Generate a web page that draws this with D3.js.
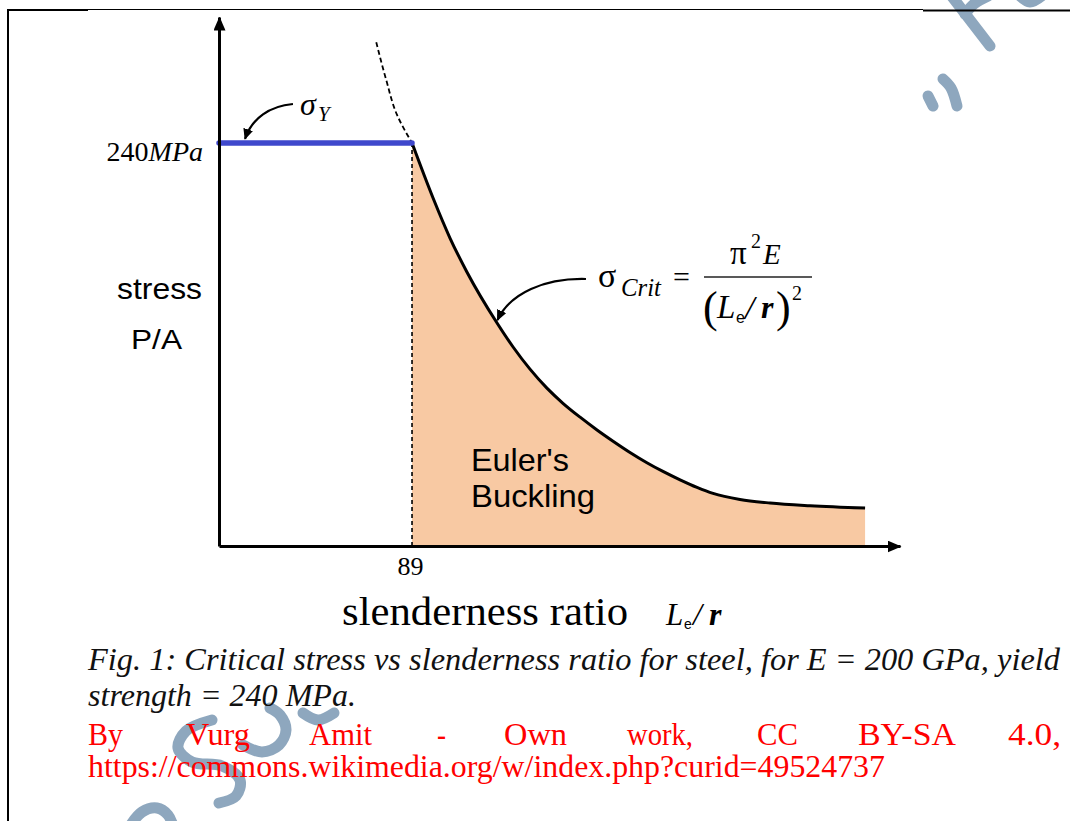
<!DOCTYPE html>
<html><head><meta charset="utf-8">
<script src="https://cdn.jsdelivr.net/npm/d3@7"></script>
<style>html,body{margin:0;padding:0;background:#fff;} svg{display:block}</style>
</head><body>
<svg id="c" width="1070" height="821"></svg>
<script>
// ---------- data ----------
const xTickValues = [89];
const yTickValues = [240];
const yTickParts = ["240", "MPa"];
const yieldLR = [0, 89];
const yieldStress = [240, 240];
const eulerLR = [89, 98.7, 106.5, 114.3, 128.2, 135.6, 143.4, 151.2, 158.6, 166.5, 174.3, 181.7, 189.5, 197.3, 204.7, 212.6, 220.4, 227.8, 240.2, 254.1, 272.5, 297.9];
const eulerStress = [240, 207.2, 183.4, 163.2, 132.8, 118.5, 105.3, 94, 85, 76.7, 69.1, 62.4, 55.7, 49.6, 44.4, 39.4, 34.9, 31.3, 27.7, 25.6, 24, 22.6];
const extLR = [72.5, 77, 82, 89];
const extStress = [300, 278, 257, 240];
const captionLines = ["Fig. 1: Critical stress vs slenderness ratio for steel, for E = 200 GPa, yield", "strength = 240 MPa."];
const creditWords = ["By", "Vurg", "Amit", "-", "Own", "work,", "CC", "BY-SA", "4.0,"];
const creditUrl = "https://commons.wikimedia.org/w/index.php?curid=49524737";

const SERIF = '"Liberation Serif", "Times New Roman", serif';
const SANS = '"Liberation Sans", Arial, sans-serif';

const svg = d3.select("#c");
const x = d3.scaleLinear().domain([0, 314]).range([219, 900]);
const y = d3.scaleLinear().domain([0, 315]).range([546, 17]);

const defs = svg.append("defs");
defs.append("marker").attr("id", "axisArrow").attr("markerUnits", "userSpaceOnUse")
  .attr("viewBox", "0 0 14 12").attr("refX", 13).attr("refY", 6)
  .attr("markerWidth", 14).attr("markerHeight", 12).attr("orient", "auto")
  .append("path").attr("d", "M0,0L14,6L0,12Z").attr("fill", "#000");
defs.append("marker").attr("id", "annArrow").attr("markerUnits", "userSpaceOnUse")
  .attr("viewBox", "0 0 11 10").attr("refX", 10).attr("refY", 5)
  .attr("markerWidth", 11).attr("markerHeight", 10).attr("orient", "auto")
  .append("path").attr("d", "M0,0L11,5L0,10Z").attr("fill", "#000");

// ---------- watermark (decoration) ----------
const wmStrokes = [
  [[950,-6],[990,46]],
  [[965,14],[974,4],[988,-4]],
  [[1018,-6],[1030,2],[1044,-6]],
  [[943,79],[951,88],[957,106]],
  [[928,96],[933,106]],
  [[212,720],[186,731],[178,748],[192,762],[222,766],[240,780],[236,796],[219,803]],
  [[243,745],[262,752],[279,745],[286,730],[280,715],[270,708]],
  [[303,713],[318,720],[334,713]],
  [[130,826],[142,812],[157,808],[168,815],[173,826]]
];
const wmLine = d3.line().curve(d3.curveCatmullRom);
svg.append("g").selectAll("path").data(wmStrokes).join("path")
  .attr("d", wmLine).attr("fill", "none").attr("stroke", "#8ea7be")
  .attr("stroke-width", 11).attr("stroke-linecap", "round");

// ---------- frame ----------
const frame = svg.append("g").attr("stroke", "#000").attr("fill", "none");
frame.append("line").attr("x1", 8).attr("x2", 8).attr("y1", 9).attr("y2", 821).attr("stroke-width", 2);
frame.append("line").attr("x1", 7).attr("x2", 88).attr("y1", 10).attr("y2", 10).attr("stroke-width", 2);
frame.append("line").attr("x1", 88).attr("x2", 923).attr("y1", 9.5).attr("y2", 9.5).attr("stroke-width", 1.2);
frame.append("line").attr("x1", 923).attr("x2", 1070).attr("y1", 10.5).attr("y2", 10.5).attr("stroke-width", 2);

// ---------- chart ----------
const euler = eulerLR.map((d, i) => [d, eulerStress[i]]);
const area = d3.area().x(d => x(d[0])).y0(y(0)).y1(d => y(d[1])).curve(d3.curveMonotoneX);
const line = d3.line().x(d => x(d[0])).y(d => y(d[1])).curve(d3.curveMonotoneX);

svg.append("path").datum(euler).attr("d", area).attr("fill", "#f8c9a3");

svg.append("path").datum([[xTickValues[0], 0], [xTickValues[0], yieldStress[1]]])
  .attr("d", d3.line().x(d => x(d[0])).y(d => y(d[1])))
  .attr("stroke", "#000").attr("stroke-width", 1.6).attr("stroke-dasharray", "4,3").attr("fill", "none");

svg.append("path").datum(extLR.map((d, i) => [d, extStress[i]]))
  .attr("d", d3.line().x(d => x(d[0])).y(d => y(d[1])).curve(d3.curveMonotoneY))
  .attr("stroke", "#000").attr("stroke-width", 1.8).attr("stroke-dasharray", "5,3").attr("fill", "none");

svg.append("path").datum(euler).attr("d", line)
  .attr("stroke", "#000").attr("stroke-width", 3).attr("fill", "none");

svg.append("path").datum(yieldLR.map((d, i) => [d, yieldStress[i]]))
  .attr("d", d3.line().x(d => x(d[0])).y(d => y(d[1])))
  .attr("stroke", "#3f48cc").attr("stroke-width", 5.5).attr("stroke-linecap", "round").attr("fill", "none");

// ---------- axes ----------
const gx = svg.append("g").attr("transform", `translate(0,${y(0)})`)
  .call(d3.axisBottom(x).tickValues(xTickValues).tickSize(0).tickSizeOuter(0).tickFormat(d3.format("d")));
gx.select(".domain").attr("stroke", "#000").attr("stroke-width", 3).attr("marker-end", "url(#axisArrow)");
gx.selectAll(".tick text").style("font-family", SERIF).attr("font-size", 26).attr("fill", "#000")
  .attr("y", 29).attr("dy", 0).attr("dx", -2);

const gy = svg.append("g").attr("transform", `translate(${x(0)},0)`)
  .call(d3.axisLeft(y).tickValues(yTickValues).tickSize(0).tickSizeOuter(0).tickPadding(16));
gy.select(".domain").attr("stroke", "#000").attr("stroke-width", 3).attr("marker-end", "url(#axisArrow)");
gy.selectAll(".tick text").each(function () {
  const t = d3.select(this).text(null).style("font-family", SERIF).attr("font-size", 28)
    .attr("fill", "#000").attr("dy", 0).attr("y", 18);
  t.append("tspan").text(yTickParts[0]);
  t.append("tspan").style("font-style", "italic").text(yTickParts[1]);
});

// ---------- labels ----------
function label(str, px, py, size, opts = {}) {
  const t = svg.append("text").attr("x", px).attr("y", py)
    .style("font-family", opts.family || SERIF).attr("font-size", size)
    .attr("fill", opts.fill || "#000").text(str);
  if (opts.italic) t.style("font-style", "italic");
  if (opts.bold) t.style("font-weight", "bold");
  if (opts.len) t.attr("textLength", opts.len).attr("lengthAdjust", "spacingAndGlyphs");
  return t;
}

label("stress", 117, 299, 30, {family: SANS, len: 85});
label("P/A", 131, 349, 27, {family: SANS, len: 51});
label("Euler's", 471, 471, 32, {family: SANS, len: 98});
label("Buckling", 471, 507, 32, {family: SANS, len: 124});

// sigma_Y
label("σ", 300, 115, 32, {italic: true});
label("Y", 318, 121, 21, {italic: true});

// sigma_crit formula
label("σ", 598, 287, 34);
label("Crit", 621, 296, 25, {italic: true, len: 40});
label("=", 673, 287, 30);
svg.append("line").attr("x1", 704).attr("x2", 812).attr("y1", 277).attr("y2", 277)
  .attr("stroke", "#222").attr("stroke-width", 1.5);
label("π", 730, 264, 33);
label("2", 751, 248, 20);
label("E", 763, 264, 29, {italic: true});
label("(", 703, 322, 44);
label("L", 717, 318, 33, {italic: true});
label("e", 736, 323, 16, {family: SANS});
label("/", 745, 319, 34, {italic: true});
label("r", 761, 318, 32, {italic: true, bold: true});
label(")", 776, 322, 44);
label("2", 792, 300, 20);

// x label
label("slenderness ratio", 342, 625, 41, {len: 286});
label("L", 666, 625, 31, {italic: true});
label("e", 684, 629, 14, {family: SANS});
label("/", 693, 625, 32, {italic: true});
label("r", 709, 625, 32, {italic: true, bold: true});

// annotation arrows (anchored in data units)
const ann = [
  [[34.1, 263.2], [23.5, 262.0], [15.2, 254.9], [12.0, 242.4]],
  [[169.2, 159.0], [150.3, 159.6], [134.2, 150.7], [128.4, 134.5]]
];
ann.forEach(p => {
  const q = p.map(d => [x(d[0]), y(d[1])]);
  svg.append("path").attr("d", `M${q[0]}C${q[1]} ${q[2]} ${q[3]}`)
    .attr("fill", "none").attr("stroke", "#000").attr("stroke-width", 2.2)
    .attr("marker-end", "url(#annArrow)");
});

// ---------- caption ----------
label(captionLines[0], 88, 670, 31, {italic: true, fill: "#111", len: 972});
label(captionLines[1], 88, 706, 31, {italic: true, fill: "#111", len: 268});
const wordX = [88, 186, 309, 437, 504, 627, 757, 858, 1008];
const wordW = [35, 64, 63, 9, 63, 66, 41, 98, 53];
creditWords.forEach((w, i) => label(w, wordX[i], 745, 31, {fill: "#ff0000", len: wordW[i]}));
label(creditUrl, 88, 777, 31, {fill: "#ff0000", len: 797});
</script>
</body></html>
